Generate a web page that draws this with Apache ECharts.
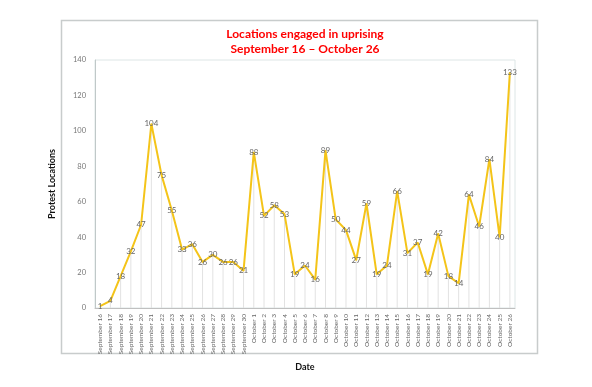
<!DOCTYPE html>
<html><head><meta charset="utf-8">
<script src="https://cdn.jsdelivr.net/npm/echarts@6/dist/echarts.min.js"></script>
<style>html,body{margin:0;padding:0;background:#fff}#c{width:592px;height:387px}</style>
</head><body><div id="c"></div>
<script>
const titleLines = ['Locations engaged in uprising', 'September 16 – October 26'];
const yAxisName = 'Protest Locations';
const xAxisName = 'Date';
const categories = [
  'September 16','September 17','September 18','September 19','September 20','September 21','September 22','September 23','September 24','September 25','September 26','September 27','September 28','September 29','September 30',
  'October 1','October 2','October 3','October 4','October 5','October 6','October 7','October 8','October 9','October 10','October 11','October 12','October 13','October 14','October 15','October 16','October 17','October 18','October 19','October 20','October 21','October 22','October 23','October 24','October 25','October 26'
];
const locations = [1,4,18,32,47,104,75,55,33,36,26,30,26,26,21,88,52,58,53,19,24,16,89,50,44,27,59,19,24,66,31,37,19,42,18,14,64,46,84,40,133];
const yTicks = {min: 0, max: 140, interval: 20};

const chart = echarts.init(document.getElementById('c'));
chart.setOption({
  animation: false,
  title: {
    text: titleLines.join('\n'),
    left: 300, top: 22, textAlign: 'center',
    textStyle: {color: '#ff0000', fontFamily: 'Lato', fontWeight: 'bold', fontSize: 12, lineHeight: 15}
  },
  graphic: [{
    type: 'rect', shape: {x: 61.5, y: 20.5, width: 476, height: 333},
    style: {fill: 'none', stroke: '#c8cccc', lineWidth: 1.5}, silent: true, z: -1
  }],
  grid: {left: 95, top: 60, right: 77, bottom: 79, show: true, borderColor: '#dde6e6', borderWidth: 1},
  xAxis: {
    type: 'category', data: categories, boundaryGap: true,
    name: xAxisName, nameLocation: 'middle', nameGap: 52,
    nameTextStyle: {fontFamily: 'Lato', fontWeight: 'bold', fontSize: 9, color: '#111'},
    axisLine: {lineStyle: {color: '#c0c0c0'}},
    axisTick: {show: false},
    axisLabel: {rotate: 90, interval: 0, fontSize: 6.5, color: '#666', fontFamily: 'Lato', margin: 6}
  },
  yAxis: {
    type: 'value', min: yTicks.min, max: yTicks.max, interval: yTicks.interval,
    name: yAxisName, nameLocation: 'middle', nameGap: 38, nameRotate: 90,
    nameTextStyle: {fontFamily: 'Lato', fontWeight: 'bold', fontSize: 9, color: '#111'},
    axisLine: {show: true, lineStyle: {color: '#c0c8c8'}},
    axisTick: {show: false},
    splitLine: {show: false},
    axisLabel: {fontSize: 7.5, color: '#777', fontFamily: 'Lato', margin: 9}
  },
  series: [{
    type: 'bar', data: locations, barWidth: 1, silent: true,
    itemStyle: {color: '#e2e2e2'}, barGap: '-100%'
  }, {
    type: 'line', data: locations,
    symbol: 'circle', symbolSize: 1, showSymbol: true,
    lineStyle: {color: '#f4c419', width: 2},
    itemStyle: {color: '#f4c419'},
    label: {show: true, position: 'inside', color: '#666', fontSize: 8, fontFamily: 'Lato'}
  }]
});
</script></body></html>
